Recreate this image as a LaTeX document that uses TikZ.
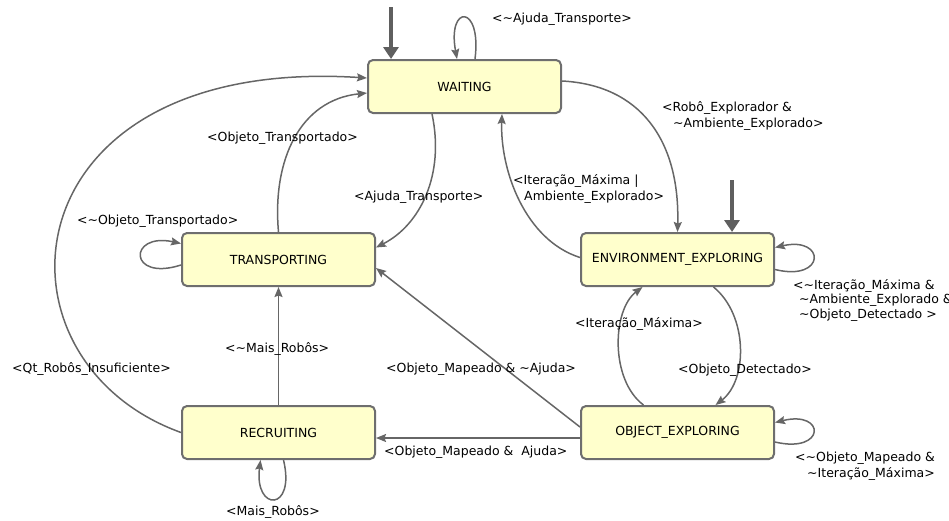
\documentclass[tikz,border=0pt]{standalone}
\usepackage{fontspec}
\setmainfont{DejaVu Sans}
\usetikzlibrary{arrows.meta}
\newcommand\tld{\textasciitilde}
\definecolor{statefill}{HTML}{FFFFCC}
\definecolor{stateline}{HTML}{6E6E6E}
\definecolor{edgeline}{HTML}{666666}
\definecolor{initline}{HTML}{5F5F5F}
\tikzset{
  statebox/.style={draw=stateline, line width=2pt, fill=statefill, rounded corners=5pt,
    minimum width=193pt, minimum height=53pt, inner sep=0pt, font=\fontsize{12.5}{15}\selectfont},
  trans/.style={draw=edgeline, line width=1.5pt, -{Stealth[length=10pt,width=8pt,inset=1.5pt]}},
  initarrow/.style={draw=initline, line width=4.5pt, -{Triangle[length=12pt,width=15pt]}},
  lbl/.style={font=\fontsize{12.5}{16}\selectfont, inner sep=0pt, anchor=west, align=left}
}
\begin{document}
\begin{tikzpicture}[x=1pt,y=-1pt]
\useasboundingbox (0,0) rectangle (949,520);

% states
\node[statebox] (W) at (464.5,86.5) {WAITING};
\node[statebox] (T) at (278.5,259.5) {TRANSPORTING};
\node[statebox] (E) at (677.5,259.5) {ENVIRONMENT\_EXPLORING};
\node[statebox] (R) at (278.5,432.5) {RECRUITING};
\node[statebox] (O) at (677.5,432.5) {OBJECT\_EXPLORING};

% initial markers
\coordinate (iw) at (391,7);
\coordinate (ie) at (732,180);
\draw[initarrow] (iw) -- (iw |- W.north);
\draw[initarrow] (ie) -- (ie |- E.north);

% WAITING
\draw[trans] ([xshift=10.5pt]W.north) .. controls (482,4) and (447,4) .. ([xshift=-7.5pt]W.north);
\draw[trans] ([yshift=5.5pt]W.east) .. controls (640,85) and (680,140) .. (E.north);
\draw[trans] ([xshift=-32.5pt]W.south) .. controls (445,175) and (420,225) .. ([yshift=12pt]T.east);

% TRANSPORTING
\draw[trans] (T.north) .. controls (272,160) and (300,100) .. ([yshift=-6.5pt]W.west);
\draw[trans] ([yshift=-5.5pt]T.west) .. controls (128,282) and (128,232) .. ([yshift=16pt]T.west);

% ENVIRONMENT_EXPLORING
\draw[trans] ([yshift=2pt]E.west) .. controls (525,240) and (500,170) .. ([xshift=37.5pt]W.south);
\draw[trans] ([xshift=36pt]E.south) .. controls (748,315) and (748,380) .. ([xshift=38pt]O.north);
\draw[trans] ([yshift=-10pt]E.east) .. controls (826,282) and (826,236) .. ([yshift=12pt]E.east);

% OBJECT_EXPLORING
\draw[trans] ([xshift=-34pt]O.north) .. controls (610,380) and (612,310) .. ([xshift=-35pt]E.south);
\draw[trans] ([yshift=-9.5pt]O.east) .. controls (826,454) and (826,410) .. ([yshift=10pt]O.east);
\draw[trans] ([yshift=5.5pt]O.west) -- ([yshift=-8.5pt]T.east);
\draw[trans] ([yshift=-5.5pt]O.west) -- ([yshift=-5.5pt]R.east);

% RECRUITING
\draw[trans] (R.north) -- (T.south);
\draw[trans] ([xshift=5pt]R.south) .. controls (296,512) and (254,512) .. ([xshift=-18pt]R.south);
\draw[trans] (R.west) .. controls (-20,360) and (5,55) .. ([yshift=8.5pt]W.west);

% guard labels
\node[lbl] (l1)  at (492,19)  {<\tld Ajuda\_Transporte>};
\node[lbl] (l2)  at (662,116) {<Robô\_Explorador \&\\\hspace{11pt}\tld Ambiente\_Explorado>};
\node[lbl] (l3)  at (513,189) {<Iteração\_Máxima |\\\hspace{11pt}Ambiente\_Explorado>};
\node[lbl] (l4)  at (207,138) {<Objeto\_Transportado>};
\node[lbl] (l5)  at (354,197) {<Ajuda\_Transporte>};
\node[lbl] (l6)  at (77,221)  {<\tld Objeto\_Transportado>};
\node[lbl, font=\fontsize{12.5}{14.5}\selectfont] (l7) at (793,300) {<\tld Iteração\_Máxima \&\\\hspace{6pt}\tld Ambiente\_Explorado \&\\\hspace{6pt}\tld Objeto\_Detectado >};
\node[lbl] (l8)  at (575,324) {<Iteração\_Máxima>};
\node[lbl] (l9)  at (225,349) {<\tld Mais\_Robôs>};
\node[lbl] (l10) at (12,369)  {<Qt\_Robôs\_Insuficiente>};
\node[lbl] (l11) at (386,369) {<Objeto\_Mapeado \& \tld Ajuda>};
\node[lbl] (l12) at (678,370) {<Objeto\_Detectado>};
\node[lbl] (l13) at (384,452) {<Objeto\_Mapeado \&\ \ Ajuda>};
\node[lbl] (l14) at (795,466) {<\tld Objeto\_Mapeado \&\\\hspace{12pt}\tld Iteração\_Máxima>};
\node[lbl] (l15) at (226,512) {<Mais\_Robôs>};
\end{tikzpicture}
\end{document}
